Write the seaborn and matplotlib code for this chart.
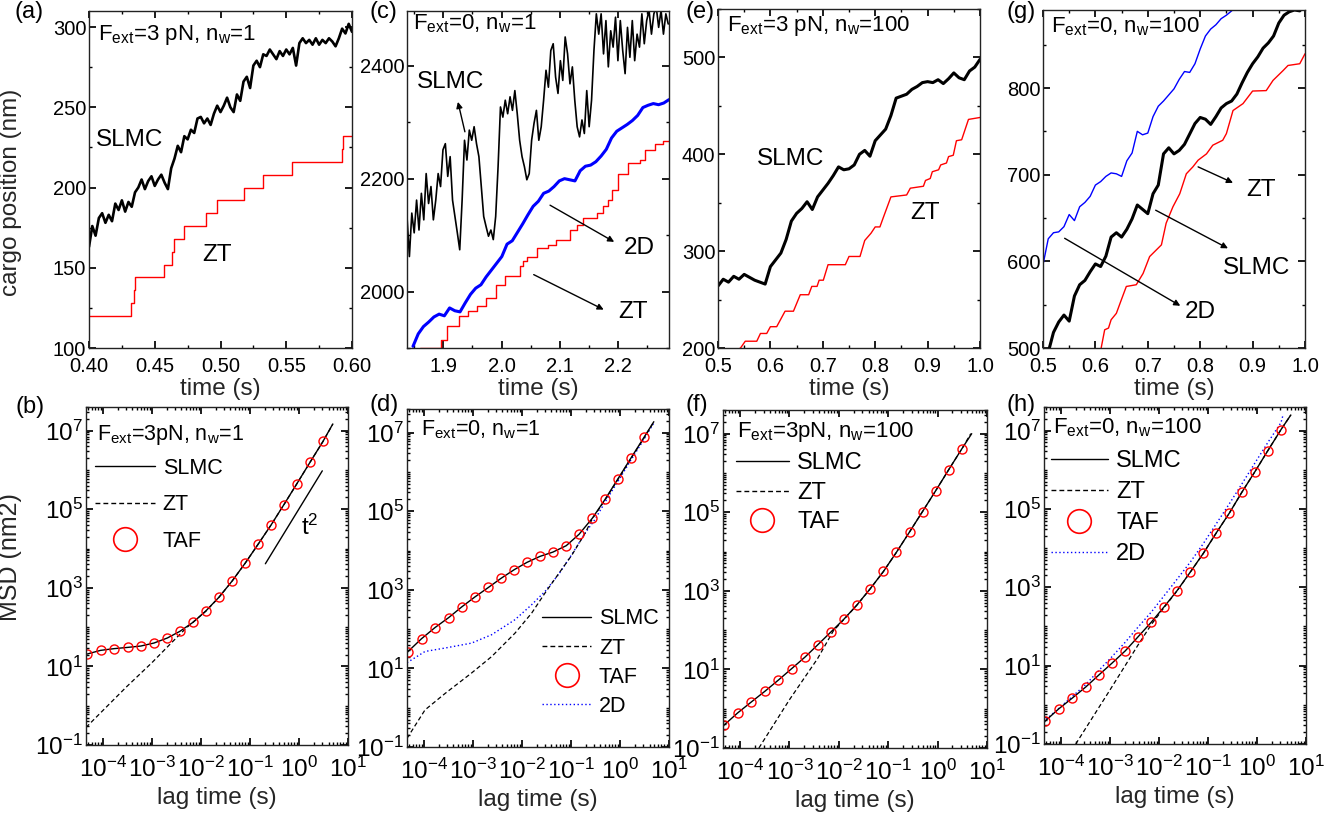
import numpy as np
import matplotlib
matplotlib.use("Agg")
import matplotlib.pyplot as plt
from matplotlib.lines import Line2D
from matplotlib.ticker import (MultipleLocator, FixedLocator, LogLocator,
                               LogFormatterMathtext, NullFormatter, FormatStrFormatter)
import seaborn as sns

# ---------------------------------------------------------------- data
# (a) F_ext = 3 pN, n_w = 1 : cargo trajectories
A_SLMC = [163, 176, 170, 181, 184, 178, 183, 179, 190, 186, 192, 185, 191, 188, 197, 200,
          205, 199, 204, 207, 201, 205, 208, 203, 199, 212, 218, 226, 222, 232, 230, 236,
          234, 243, 244, 240, 243, 239, 246, 251, 247, 251, 256, 250, 247, 258, 254, 266,
          269, 262, 276, 279, 275, 283, 282, 286, 283, 280, 285, 282, 286, 283, 287, 276,
          290, 293, 290, 292, 289, 293, 289, 292, 290, 293, 291, 288, 293, 299, 296, 302, 297]
A_ZT_T = [0.40, 0.4322, 0.434, 0.4352, 0.457, 0.463, 0.4644, 0.4723, 0.4887, 0.4976,
          0.5179, 0.532, 0.5541, 0.5927, 0.5932, 0.60]
A_ZT = [120, 128, 136, 144, 152, 160, 168, 176, 184, 192, 200, 208, 216, 224, 232, 232]

# (c) F_ext = 0, n_w = 1
C_SLMC = [2133, 2062, 2139, 2104, 2162, 2109, 2174, 2127, 2209, 2156, 2186, 2127, 2162, 2209,
          2186, 2251, 2262, 2204, 2239, 2162, 2133, 2104, 2074, 2162, 2268, 2233, 2286, 2268,
          2292, 2262, 2239, 2186, 2133, 2115, 2098, 2109, 2092, 2133, 2221, 2327, 2309, 2339,
          2315, 2345, 2321, 2356, 2315, 2268, 2239, 2221, 2198, 2209, 2268, 2298, 2321, 2268,
          2292, 2339, 2392, 2362, 2427, 2439, 2380, 2351, 2409, 2374, 2451, 2421, 2368, 2398,
          2339, 2292, 2274, 2304, 2280, 2356, 2292, 2339, 2427, 2492, 2456, 2492, 2421, 2480,
          2398, 2462, 2433, 2486, 2409, 2480, 2427, 2386, 2468, 2415, 2480, 2409, 2456, 2433,
          2492, 2439, 2480, 2498, 2456, 2492, 2504, 2468, 2498, 2456, 2492, 2474]
C_2D = [1903, 1925, 1938, 1946, 1955, 1960, 1957, 1971, 1966, 1964, 1980, 1995, 2006, 2012,
        2026, 2038, 2050, 2062, 2084, 2090, 2105, 2120, 2136, 2151, 2160, 2174, 2178, 2186,
        2196, 2200, 2198, 2196, 2214, 2222, 2224, 2230, 2240, 2252, 2272, 2284, 2290, 2296,
        2303, 2312, 2326, 2330, 2333, 2331, 2334, 2340]
C_ZT_T = [1.86, 1.896, 1.906, 1.927, 1.943, 1.957, 1.974, 1.991, 2.006, 2.031, 2.037, 2.043,
          2.06, 2.08, 2.094, 2.117, 2.129, 2.14, 2.163, 2.174, 2.183, 2.189, 2.2, 2.217,
          2.237, 2.246, 2.263, 2.277, 2.287]
C_ZT = [1900, 1915, 1939, 1956, 1965, 1974, 1989, 2012, 2027, 2045, 2054, 2062, 2077, 2083,
        2092, 2109, 2118, 2130, 2139, 2151, 2162, 2180, 2209, 2227, 2233, 2251, 2262, 2267, 2267]

# (e) F_ext = 3 pN, n_w = 100
E_SLMC = [264, 271, 268, 274, 271, 276, 273, 270, 268, 266, 284, 291, 298, 312, 331, 339,
          344, 351, 343, 356, 363, 370, 378, 387, 384, 385, 389, 400, 404, 398, 414, 420,
          426, 440, 458, 460, 462, 467, 470, 474, 475, 474, 477, 473, 478, 484, 479, 477,
          486, 490, 498]
E_ZT_T = [0.53, 0.543, 0.552, 0.574, 0.581, 0.593, 0.600, 0.612, 0.628, 0.644, 0.657, 0.673,
          0.679, 0.689, 0.693, 0.701, 0.71, 0.743, 0.75, 0.771, 0.78, 0.792, 0.8, 0.809,
          0.815, 0.83, 0.86, 0.867, 0.892, 0.896, 0.905, 0.909, 0.921, 0.925, 0.936, 0.94,
          0.949, 0.955, 0.965, 0.978, 1.0]
E_ZT = [196, 200, 207, 207, 215, 215, 222, 222, 238, 238, 255, 255, 263.6, 263.6, 270, 270,
        286, 286, 294.5, 294.5, 311, 318.5, 325, 325, 334, 356, 358, 365, 367, 373, 375, 382,
        384, 389, 391, 397.6, 399, 414, 415, 436, 438]

# (g) F_ext = 0, n_w = 100
G_SLMC = [495, 518, 530, 538, 531, 560, 573, 578, 588, 597, 594, 606, 628, 633, 628, 637,
          649, 665, 660, 655, 678, 688, 724, 731, 724, 728, 735, 747, 759, 766, 764, 758,
          767, 777, 782, 785, 793, 806, 818, 828, 836, 846, 852, 860, 875, 884, 888, 890,
          889, 896]
G_2D = [596, 626, 633, 634, 640, 654, 647, 663, 668, 675, 688, 692, 698, 702, 701, 698,
        716, 725, 750, 746, 748, 767, 779, 785, 792, 799, 810, 819, 818, 828, 845, 860,
        868, 873, 880, 884, 889, 895]
G_ZT_T = [0.611, 0.6177, 0.625, 0.63, 0.64, 0.6495, 0.659, 0.678, 0.691, 0.7035, 0.716,
          0.726, 0.735, 0.748, 0.761, 0.7735, 0.786, 0.796, 0.812, 0.824, 0.843, 0.85,
          0.8626, 0.8817, 0.9, 0.926, 0.939, 0.958, 0.9676, 0.99, 1.0]
G_ZT = [500, 521, 523, 532.6, 540, 555.6, 571, 573, 586, 605.5, 613, 619, 644, 663, 678, 701,
        709, 716.7, 724, 734, 739.7, 747.4, 774, 782, 796.5, 797, 808.8, 820, 826, 828, 839.5]

# MSD panels: lag times of the time-averaged (TAF) points
LAG = [4.7e-5, 8.9e-5, 1.67e-4, 3.2e-4, 5.9e-4, 1.1e-3, 2.06e-3, 3.7e-3, 6.9e-3, 1.26e-2,
       2.33e-2, 4.3e-2, 8.0e-2, 0.146, 0.272, 0.494, 0.91, 1.67, 3.09]
SLMC_T = [4.5e-5] + LAG + [4.9]

TAF_B = [20.6, 25.6, 28.3, 30.5, 33, 39.4, 52.9, 78, 133, 259, 578, 1480, 4270, 1.28e4,
         4.06e4, 1.32e5, 4.52e5, 1.55e6, 5.35e6]
SLMC_B = [20.2] + TAF_B + [1.48e7]
ZT_B_T = [4.5e-5, 1e-4, 3e-4, 1e-3, 2.5e-3, 5e-3, 1.26e-2, 2.33e-2, 4.3e-2, 8e-2, 0.146,
          0.272, 0.494, 0.91, 1.67, 3.09, 4.9]
ZT_B = [0.28, 0.76, 3.0, 12.5, 40, 95, 255, 575, 1475, 4260, 1.28e4, 4.05e4, 1.32e5, 4.5e5,
        1.55e6, 5.3e6, 1.47e7]
T2_T = [0.206, 2.99]
T2_Y = [4.1e3, 9.5e5]

TAF_D = [26.7, 57, 109, 197, 368, 662, 1148, 1945, 3243, 4990, 7100, 9160, 1.33e4, 2.59e4,
         6.62e4, 1.99e5, 6.7e5, 2.25e6, 7.6e6]
SLMC_D = [25] + TAF_D + [1.9e7]
ZT_D_T = [4.5e-5, 1.05e-4, 2.69e-4, 9.3e-4, 2.4e-3, 7.2e-3, 1.58e-2, 2.95e-2, 5.5e-2, 0.103,
          0.195, 0.272, 0.494, 0.91, 1.67, 3.09, 4.8]
ZT_D = [0.166, 0.88, 2.3, 7.6, 20, 79, 257, 830, 2500, 7500, 2.8e4, 6.4e4, 1.93e5, 6.5e5,
        2.2e6, 7.3e6, 1.8e7]
D2_D_T = [4.5e-5, 1.05e-4, 2.69e-4, 9.3e-4, 2.4e-3, 7.2e-3, 1.58e-2, 2.95e-2, 5.5e-2, 0.103,
          0.195, 0.309, 0.494, 0.91, 1.67, 3.09, 4.8]
D2_D = [14, 27, 33, 44, 72, 174, 420, 910, 2400, 7800, 2.8e4, 6.2e4, 1.7e5, 5.8e5, 2.0e6,
        6.8e6, 1.7e7]

TAF_F = [0.38, 0.78, 1.47, 2.8, 5.3, 10.4, 20.6, 41.8, 89.8, 189, 439, 1125, 3118, 9520,
         3.2e4, 1.04e5, 3.5e5, 1.2e6, 4.1e6]
SLMC_F = [0.34] + TAF_F + [1.0e7]
ZT_F_T = [2.4e-4, 1e-3, 3.7e-3, 7.7e-3, 1.26e-2, 2.33e-2, 4.3e-2, 8.0e-2, 0.146, 0.272,
          0.494, 0.91, 1.67, 3.09, 4.7]
ZT_F = [0.1, 1.7, 18.8, 95, 186, 436, 1120, 3110, 9500, 3.2e4, 1.04e5, 3.5e5, 1.2e6, 4.1e6,
        1.0e7]

TAF_H = [0.38, 0.78, 1.46, 2.85, 5.75, 11.6, 24, 53.7, 127, 313, 816, 2395, 7310, 2.4e4,
         7.8e4, 2.7e5, 9.0e5, 3.1e6, 1.06e7]
SLMC_H = [0.34] + TAF_H + [2.5e7]
ZT_H_T = [2.0e-4, 1e-3, 3.7e-3, 6.9e-3, 1.26e-2, 2.33e-2, 4.3e-2, 8.0e-2, 0.146, 0.272,
          0.494, 0.91, 1.67, 3.09, 4.9]
ZT_H = [0.1, 2.4, 33, 110, 300, 805, 2380, 7280, 2.39e4, 7.8e4, 2.7e5, 9.0e5, 3.1e6,
        1.06e7, 2.5e7]
D2_H_T = [4.5e-5] + LAG + [3.4]
D2_H = [0.36, 0.40, 0.80, 1.6, 3.3, 7.5, 17, 40, 95, 230, 600, 1600, 4300, 1.3e4, 4.1e4,
        1.35e5, 4.4e5, 1.5e6, 5.0e6, 1.6e7, 2.5e7]

# ---------------------------------------------------------------- style
sns.set_theme(style="ticks")
plt.rcParams.update({
    "font.family": ["Liberation Sans", "DejaVu Sans"],
    "mathtext.fontset": "custom",
    "mathtext.rm": "Liberation Sans",
    "mathtext.it": "Liberation Sans:italic",
    "mathtext.bf": "Liberation Sans:bold",
    "mathtext.default": "regular",
    "axes.linewidth": 1.0,
    "axes.edgecolor": "#222222",
    "xtick.direction": "in",
    "ytick.direction": "in",
    "xtick.top": True,
    "ytick.right": True,
    "xtick.major.size": 5,
    "ytick.major.size": 5,
    "xtick.minor.size": 2.5,
    "ytick.minor.size": 2.5,
    "xtick.color": "black",
    "ytick.color": "black",
    "text.color": "black",
})

RED = "#ff0000"
BLUE = "#0000ff"
DASH = (0, (3.5, 2.2))
DOT = (0, (1, 1.8))

W, H = 1338, 815
fig = plt.figure(figsize=(W / 100, H / 100), dpi=100)


def axes_px(left, top, right, bottom):
    return fig.add_axes([left / W, 1 - bottom / H, (right - left) / W, (bottom - top) / H])


def line(ax, x, y, **kw):
    sns.lineplot(x=np.asarray(x, float), y=np.asarray(y, float), ax=ax,
                 estimator=None, sort=False, legend=False, **kw)


def top_axes(ax, xlim, ylim, xmaj, xmin, ymaj, ymin, xfmt):
    ax.set_xlim(*xlim)
    ax.set_ylim(*ylim)
    ax.xaxis.set_major_locator(MultipleLocator(xmaj))
    ax.xaxis.set_minor_locator(MultipleLocator(xmin))
    ax.yaxis.set_major_locator(MultipleLocator(ymaj))
    ax.yaxis.set_minor_locator(MultipleLocator(ymin))
    ax.xaxis.set_major_formatter(FormatStrFormatter(xfmt))
    ax.tick_params(axis="both", which="major", labelsize=14.5)
    ax.tick_params(axis="x", pad=6.5)
    ax.tick_params(axis="y", pad=2)
    ax.set_xlabel("time (s)", fontsize=17.5, labelpad=0)
    ax.xaxis.set_label_coords(0.5, -0.088)
    ax.set_ylabel("")


def msd_axes(ax):
    ax.set_xscale("log")
    ax.set_yscale("log")
    ax.set_xlim(4.5e-5, 10)
    ax.set_ylim(0.1, 4e7)
    ax.xaxis.set_major_locator(LogLocator(base=10, numticks=20))
    ax.xaxis.set_minor_locator(LogLocator(base=10, subs=np.arange(2, 10), numticks=20))
    ax.yaxis.set_major_locator(FixedLocator([1e-1, 1e1, 1e3, 1e5, 1e7]))
    ax.yaxis.set_minor_locator(LogLocator(base=10, subs=np.arange(1, 10), numticks=30))
    ax.xaxis.set_major_formatter(LogFormatterMathtext())
    ax.yaxis.set_major_formatter(LogFormatterMathtext())
    ax.xaxis.set_minor_formatter(NullFormatter())
    ax.yaxis.set_minor_formatter(NullFormatter())
    ax.tick_params(axis="both", which="major", labelsize=17.5)
    ax.tick_params(axis="x", pad=8.5)
    ax.tick_params(axis="y", pad=2)
    ax.set_xlabel("lag time (s)", fontsize=17.5, labelpad=0)
    ax.xaxis.set_label_coords(0.5, -0.124)
    ax.set_ylabel("")


def arrow(ax, tail, head):
    ax.annotate("", xy=head, xytext=tail,
                arrowprops=dict(arrowstyle="-|>", color="black", lw=1.0,
                                mutation_scale=9, shrinkA=0, shrinkB=0))


def msd_legend(ax, with_2d, anchor, fs, spacing, hlen):
    handles = [Line2D([], [], color="black", lw=1.0),
               Line2D([], [], color="black", lw=1.0, ls=DASH),
               Line2D([], [], ls="none", marker="o", ms=17, mfc="none", mec=RED, mew=1.2)]
    labels = ["SLMC", "ZT", "TAF"]
    if with_2d:
        handles.append(Line2D([], [], color=BLUE, lw=1.0, ls=DOT))
        labels.append("2D")
    ax.legend(handles, labels, loc="upper left", bbox_to_anchor=anchor, frameon=False,
              fontsize=fs, handlelength=hlen, handletextpad=0.35, labelspacing=spacing,
              borderpad=0, borderaxespad=0)


TXT = 17.5

# ---------------------------------------------------------------- (a)
ax = axes_px(89, 11, 352, 348)
line(ax, np.linspace(0.40, 0.60, len(A_SLMC)), A_SLMC, color="black", lw=1.9)
line(ax, A_ZT_T, A_ZT, color=RED, lw=1.0, drawstyle="steps-post")
top_axes(ax, (0.40, 0.60), (100, 310), 0.05, 0.025, 50, 25, "%.2f")
ax.set_ylabel("cargo position (nm)", fontsize=17.5)
ax.yaxis.set_label_coords(-0.255, 0.463)
ax.text(0.034, 0.914, "F$_{ext}$=3 pN, n$_{w}$=1", transform=ax.transAxes, fontsize=16,
        ha="left", va="baseline")
ax.text(0.431, 229.5, "SLMC", fontsize=TXT, ha="center", va="center")
ax.text(0.497, 158, "ZT", fontsize=TXT, ha="center", va="center")

# ---------------------------------------------------------------- (c)
ax = axes_px(407, 11, 669, 348)
line(ax, np.linspace(1.8377, 2.2857, len(C_SLMC)), C_SLMC, color="black", lw=1.2)
line(ax, np.linspace(1.848, 2.287, len(C_2D)), C_2D, color=BLUE, lw=2.2)
line(ax, C_ZT_T, C_ZT, color=RED, lw=1.0, drawstyle="steps-post")
top_axes(ax, (1.8377, 2.287), (1900, 2497), 0.1, 0.05, 200, 100, "%.1f")
ax.text(0.023, 0.944, "F$_{ext}$=0, n$_{w}$=1", transform=ax.transAxes, fontsize=16,
        ha="left", va="baseline")
ax.text(1.912, 2371, "SLMC", fontsize=TXT, ha="center", va="center")
arrow(ax, (1.937, 2283), (1.925, 2336))
ax.text(2.236, 2077, "2D", fontsize=TXT, ha="center", va="center")
arrow(ax, (2.083, 2153), (2.193, 2088))
ax.text(2.226, 1964, "ZT", fontsize=TXT, ha="center", va="center")
arrow(ax, (2.055, 2030), (2.175, 1968))

# ---------------------------------------------------------------- (e)
ax = axes_px(718, 9, 980, 348)
line(ax, np.linspace(0.50, 1.00, len(E_SLMC)), E_SLMC, color="black", lw=2.2)
line(ax, E_ZT_T, E_ZT, color=RED, lw=1.0)
top_axes(ax, (0.5, 1.0), (200, 550), 0.1, 0.05, 100, 50, "%.1f")
ax.text(0.034, 0.935, "F$_{ext}$=3 pN, n$_{w}$=100", transform=ax.transAxes, fontsize=16,
        ha="left", va="baseline")
ax.text(0.638, 395, "SLMC", fontsize=TXT, ha="center", va="center")
ax.text(0.895, 339, "ZT", fontsize=TXT, ha="center", va="center")

# ---------------------------------------------------------------- (g)
ax = axes_px(1043, 10, 1305, 348)
line(ax, np.linspace(0.50, 0.87, len(G_2D)), G_2D, color=BLUE, lw=1.0)
line(ax, np.linspace(0.51, 1.00, len(G_SLMC)), G_SLMC, color="black", lw=2.2)
line(ax, G_ZT_T, G_ZT, color=RED, lw=1.0)
top_axes(ax, (0.5, 1.0), (500, 890), 0.1, 0.05, 100, 50, "%.1f")
ax.text(0.03, 0.935, "F$_{ext}$=0, n$_{w}$=100", transform=ax.transAxes, fontsize=16,
        ha="left", va="baseline")
ax.text(0.9167, 682, "ZT", fontsize=TXT, ha="center", va="center")
arrow(ax, (0.796, 709), (0.8626, 690.6))
ax.text(0.907, 592, "SLMC", fontsize=TXT, ha="center", va="center")
arrow(ax, (0.715, 659), (0.853, 615))
ax.text(0.80, 542, "2D", fontsize=TXT, ha="center", va="center")
arrow(ax, (0.5413, 626.6), (0.762, 548.7))

# ---------------------------------------------------------------- MSD panels
MS = 6.5
circ = dict(marker="o", linestyle="none", markersize=MS, markerfacecolor="none",
            markeredgecolor=RED, markeredgewidth=1.0, color=RED)

# (b)
ax = axes_px(86, 407, 348, 745)
msd_axes(ax)
line(ax, ZT_B_T, ZT_B, color="black", lw=0.9, linestyle=DASH)
line(ax, SLMC_T, SLMC_B, color="black", lw=1.0)
line(ax, LAG, TAF_B, **circ)
line(ax, T2_T, T2_Y, color="black", lw=1.0)
ax.text(1.65, 3.4e4, "t$^{2}$", fontsize=TXT, ha="center", va="center")
ax.set_ylabel("MSD (nm2)", fontsize=18)
ax.yaxis.set_label_coords(-0.244, 0.556)
ax.text(0.042, 0.902, "F$_{ext}$=3pN, n$_{w}$=1", transform=ax.transAxes, fontsize=15.5,
        ha="left", va="baseline")
msd_legend(ax, False, (0.034, 0.85), 15.5, 0.72, 2.8)

# (d)
ax = axes_px(407, 409, 669, 747)
msd_axes(ax)
line(ax, D2_D_T, D2_D, color=BLUE, lw=1.0, linestyle=DOT)
line(ax, ZT_D_T, ZT_D, color="black", lw=0.9, linestyle=DASH)
line(ax, SLMC_T, SLMC_D, color="black", lw=1.0)
line(ax, LAG, TAF_D, **circ)
ax.text(0.053, 0.923, "F$_{ext}$=0, n$_{w}$=1", transform=ax.transAxes, fontsize=15.5,
        ha="left", va="baseline")
msd_legend(ax, True, (0.515, 0.41), 15.5, 0.38, 2.3)

# (f)
ax = axes_px(723, 410, 987, 748)
msd_axes(ax)
line(ax, ZT_F_T, ZT_F, color="black", lw=0.9, linestyle=DASH)
line(ax, SLMC_T, SLMC_F, color="black", lw=1.0)
line(ax, LAG, TAF_F, **circ)
ax.text(0.053, 0.92, "F$_{ext}$=3pN, n$_{w}$=100", transform=ax.transAxes, fontsize=16,
        ha="left", va="baseline")
msd_legend(ax, False, (0.049, 0.875), 17, 0.32, 2.25)

# (h)
ax = axes_px(1044, 407, 1306, 744)
msd_axes(ax)
line(ax, D2_H_T, D2_H, color=BLUE, lw=1.0, linestyle=DOT)
line(ax, ZT_H_T, ZT_H, color="black", lw=0.9, linestyle=DASH)
line(ax, SLMC_T, SLMC_H, color="black", lw=1.0)
line(ax, LAG, TAF_H, **circ)
ax.text(0.034, 0.923, "F$_{ext}$=0, n$_{w}$=100", transform=ax.transAxes, fontsize=16,
        ha="left", va="baseline")
msd_legend(ax, True, (0.027, 0.872), 17, 0.38, 2.4)

# ---------------------------------------------------------------- panel letters
for lab, (px, py) in {"(a)": (29, 12), "(c)": (383, 12), "(e)": (700, 12), "(g)": (1021, 12),
                      "(b)": (30, 407), "(d)": (384, 405), "(f)": (697, 405),
                      "(h)": (1021, 405)}.items():
    fig.text(px / W, 1 - py / H, lab, fontsize=17, ha="center", va="center")

fig.savefig("out.png", dpi=100)
